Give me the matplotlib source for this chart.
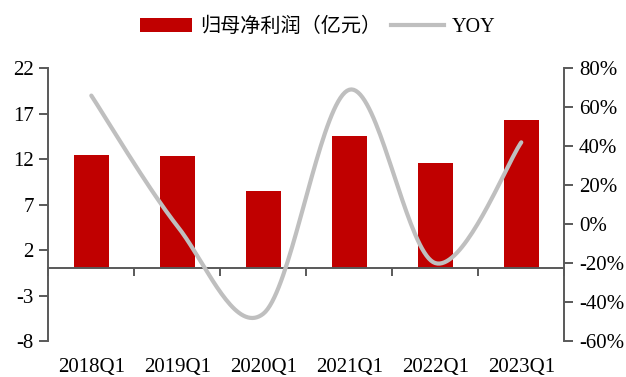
import numpy as np
import matplotlib
matplotlib.use("Agg")
import matplotlib.pyplot as plt
from matplotlib.patches import Patch
from matplotlib.lines import Line2D

plt.rcParams['font.family'] = ['Liberation Serif', 'Noto Sans CJK SC']
plt.rcParams['axes.unicode_minus'] = False

# data
quarters = ['2018Q1', '2019Q1', '2020Q1', '2021Q1', '2022Q1', '2023Q1']
profit = [12.5, 12.4, 8.5, 14.5, 11.6, 16.3]      # 亿元
yoy = [66, -1, -46, 69, -20, 42]                 # %

bar_color = '#C00000'
line_color = '#BFBFBF'
axis_color = '#595959'


def smooth_curve(x, y, n=40):
    # Bezier segments with Catmull-Rom style control points
    x = np.asarray(x, float)
    y = np.asarray(y, float)
    px = np.concatenate([[x[0]], x, [x[-1]]])
    py = np.concatenate([[y[0]], y, [y[-1]]])
    xs, ys = [], []
    t = np.linspace(0, 1, n)
    for i in range(1, len(px) - 2):
        p0 = np.array([px[i], py[i]])
        p3 = np.array([px[i + 1], py[i + 1]])
        c1 = p0 + (np.array([px[i + 1], py[i + 1]]) - np.array([px[i - 1], py[i - 1]])) / 6
        c2 = p3 - (np.array([px[i + 2], py[i + 2]]) - np.array([px[i], py[i]])) / 6
        b = ((1 - t) ** 3)[:, None] * p0 + (3 * (1 - t) ** 2 * t)[:, None] * c1 \
            + (3 * (1 - t) * t ** 2)[:, None] * c2 + (t ** 3)[:, None] * p3
        xs.append(b[:, 0])
        ys.append(b[:, 1])
    return np.concatenate(xs), np.concatenate(ys)


fig = plt.figure(figsize=(6.26, 3.77), dpi=100)
ax = fig.add_axes([0.0772, 0.0955, 0.8242, 0.7233])
ax2 = ax.twinx()

x = np.arange(len(quarters))
ax.bar(x, profit, width=0.41, color=bar_color, zorder=2)

sx, sy = smooth_curve(x, yoy)
ax2.plot(sx, sy, color=line_color, lw=3, solid_capstyle='round', zorder=3)

ax.set_xlim(-0.5, len(quarters) - 0.5)
ax.set_ylim(-8, 22)
ax.set_yticks(np.arange(-8, 23, 5))
ax2.set_ylim(-60, 80)
ax2.set_yticks(np.arange(-60, 81, 20))
ax2.set_yticklabels([f'{v}%' for v in range(-60, 81, 20)])

# draw the line above the bars
ax.set_zorder(ax2.get_zorder() - 1)
ax2.patch.set_visible(False)

for a in (ax, ax2):
    for s in a.spines.values():
        s.set_visible(False)
    a.tick_params(axis='y', labelsize=15, length=6.5, width=1.4,
                  color=axis_color, pad=4)

ax.spines['left'].set_visible(True)
ax.spines['left'].set_color(axis_color)
ax.spines['left'].set_linewidth(1.4)
ax2.spines['right'].set_visible(True)
ax2.spines['right'].set_color(axis_color)
ax2.spines['right'].set_linewidth(1.4)

# category axis runs through zero, ticks between categories
ax.spines['bottom'].set_visible(True)
ax.spines['bottom'].set_position(('data', 0))
ax.spines['bottom'].set_color(axis_color)
ax.spines['bottom'].set_linewidth(1.4)
ax.set_xticks(np.arange(-0.5, len(quarters), 1))
ax.set_xticklabels([])
ax.tick_params(axis='x', length=6, width=1.4, color=axis_color, direction='out')

# category labels along the bottom
sec = ax.secondary_xaxis(0)
sec.set_xticks(x)
sec.set_xticklabels(quarters)
sec.tick_params(axis='x', length=0, labelsize=15, pad=12)
for s in sec.spines.values():
    s.set_visible(False)

handles = [Patch(facecolor=bar_color, edgecolor='none'),
           Line2D([], [], color=line_color, lw=3)]
fig.legend(handles, ['归母净利润（亿元）', 'YOY'], loc='center',
           bbox_to_anchor=(0.507, 0.928), ncol=2, frameon=False,
           fontsize=14.5, handlelength=2.6, handletextpad=0.4,
           columnspacing=0.5, borderaxespad=0)

fig.savefig('out.png', dpi=100)
